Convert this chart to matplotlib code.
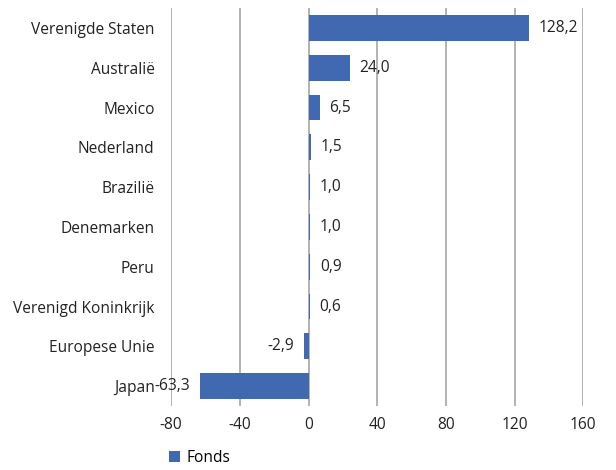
import matplotlib
matplotlib.use("Agg")
import matplotlib.pyplot as plt

countries = ["Verenigde Staten", "Australië", "Mexico", "Nederland", "Brazilië",
             "Denemarken", "Peru", "Verenigd Koninkrijk", "Europese Unie", "Japan"]
values = [128.2, 24.0, 6.5, 1.5, 1.0, 1.0, 0.9, 0.6, -2.9, -63.3]
xticks = [-80, -40, 0, 40, 80, 120, 160]
series_name = "Fonds"

plt.rcParams["font.family"] = ["Open Sans", "DejaVu Sans"]
bar_color = "#4169B2"
fs = 11.2

fig = plt.figure(figsize=(6.16, 4.70), dpi=100)
ax = fig.add_axes([0.278, 0.136, 0.669, 0.847])

ypos = list(range(len(countries)))
bars = ax.barh(ypos, values, height=0.65, color=bar_color, label=series_name, zorder=3)

for y, v in zip(ypos, values):
    txt = f"{v:.1f}".replace(".", ",")
    if v >= 0:
        ax.annotate(txt, (v, y), xytext=(7, 0), textcoords="offset points",
                    ha="left", va="center", fontsize=fs, color="#222222")
    else:
        ax.annotate(txt, (v, y), xytext=(-7, 0), textcoords="offset points",
                    ha="right", va="center", fontsize=fs, color="#222222")

ax.set_ylim(len(countries) - 0.5, -0.5)
ax.set_yticks(ypos)
ax.set_yticklabels(countries, fontsize=fs, color="#222222")
ax.set_xlim(-80, 160)
ax.set_xticks(xticks)
ax.set_xticklabels([str(t) for t in xticks], fontsize=fs, color="#222222")
ax.tick_params(axis="both", length=0)
ax.tick_params(axis="x", pad=8)
ax.tick_params(axis="y", pad=12)
ax.xaxis.grid(True, color="#A6A6A6", linewidth=1.2, zorder=0)
for s in ax.spines.values():
    s.set_visible(False)

fig.legend(handles=[bars], labels=[series_name], loc="lower left",
           bbox_to_anchor=(0.252, -0.022), frameon=False, fontsize=fs,
           handlelength=0.7, handleheight=0.7, handletextpad=0.4)

fig.savefig("out.png", dpi=100)
